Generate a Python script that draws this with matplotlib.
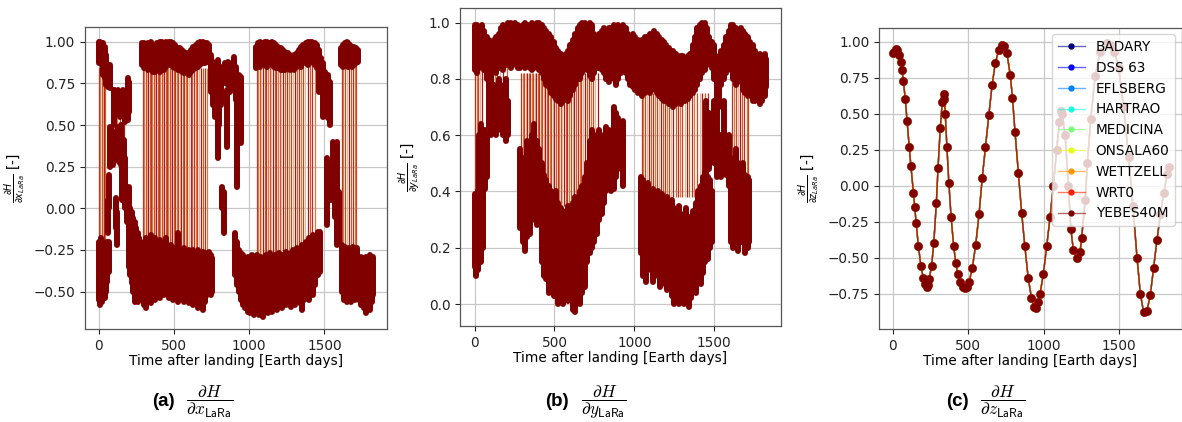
import numpy as np
import matplotlib
matplotlib.use("Agg")
import matplotlib.pyplot as plt

# ---------------- Panel (a): dH/dx_LaRa ----------------
# upper branch strokes (time [days], low, high)
a_up_t = [0, 10, 20, 30, 40, 50, 60, 78,
          285, 300, 315, 330, 345, 360, 375, 390, 405, 420, 435, 450, 465, 480, 495, 510, 525,
          540, 555, 570, 585, 600, 615, 630, 645, 660, 675, 690, 705, 720, 732,
          1045, 1060, 1075, 1090, 1105, 1120, 1135, 1150, 1165, 1180, 1195, 1210, 1225, 1240,
          1255, 1270, 1285, 1300, 1315, 1330, 1345, 1360, 1375, 1390, 1405, 1420, 1435, 1450,
          1465, 1478,
          1610, 1622, 1635, 1648, 1660, 1672, 1685, 1698, 1710, 1722]
a_up_lo = [0.87, 0.88, 0.86, 0.80, 0.78, 0.74, 0.73, 0.72,
           0.86, 0.84, 0.85, 0.83, 0.84, 0.82, 0.82, 0.83, 0.82, 0.84, 0.83, 0.85, 0.86, 0.87, 0.85, 0.84, 0.83,
           0.83, 0.82, 0.81, 0.81, 0.80, 0.82, 0.83, 0.84, 0.85, 0.86, 0.87, 0.87, 0.88, 0.88,
           0.84, 0.86, 0.85, 0.87, 0.86, 0.85, 0.87, 0.86, 0.85, 0.84, 0.84, 0.83, 0.83, 0.83,
           0.84, 0.83, 0.84, 0.83, 0.85, 0.86, 0.85, 0.87, 0.87, 0.86, 0.87, 0.88, 0.86, 0.84,
           0.70, 0.72,
           0.86, 0.85, 0.86, 0.87, 0.85, 0.86, 0.85, 0.86, 0.87, 0.88]
a_up_hi = [1.00, 1.00, 0.99, 0.99, 0.97, 0.92, 0.86, 0.86,
           0.99, 0.99, 0.98, 0.99, 1.00, 0.98, 0.97, 0.99, 1.00, 1.00, 0.99, 1.00, 1.00, 1.00, 0.99, 0.98, 0.96,
           0.96, 0.95, 0.94, 0.93, 0.93, 0.95, 0.97, 0.98, 0.99, 1.00, 1.00, 0.99, 0.99, 0.98,
           0.97, 0.99, 1.00, 0.99, 1.00, 1.00, 0.99, 1.00, 0.99, 0.98, 0.97, 0.96, 0.95, 0.94,
           0.93, 0.92, 0.91, 0.92, 0.93, 0.95, 0.97, 0.98, 0.99, 1.00, 1.00, 1.00, 0.99, 0.98,
           0.95, 0.90,
           0.96, 0.98, 0.99, 1.00, 0.99, 0.98, 0.97, 0.97, 0.96, 0.95]

# lower branch strokes
a_lo_t = [0, 8, 16, 24, 32, 40, 48, 56, 66,
          220, 230, 240, 250, 260, 270, 280, 290,
          300, 315, 330, 345, 360, 375, 390, 405, 420, 435, 450, 465, 480, 495, 510, 525, 540,
          555, 570, 585, 600, 615, 630, 645, 660, 675, 690, 705, 720, 732, 745, 755,
          905, 918, 930, 945, 960, 975, 990, 1005, 1020, 1035, 1050, 1065, 1080, 1095, 1110,
          1125, 1140, 1155, 1170, 1185, 1200, 1215, 1230, 1245, 1260, 1275, 1290, 1305, 1320,
          1335, 1350, 1365, 1380, 1395, 1410, 1425, 1440, 1455, 1470,
          1615, 1628, 1640, 1652, 1665, 1678, 1690, 1702, 1715, 1728, 1740, 1752, 1765, 1778,
          1790, 1802, 1815, 1826]
a_lo_lo = [-0.55, -0.58, -0.52, -0.56, -0.50, -0.54, -0.50, -0.44, -0.38,
           -0.45, -0.50, -0.56, -0.52, -0.56, -0.55, -0.52, -0.50,
           -0.58, -0.60, -0.55, -0.57, -0.52, -0.55, -0.50, -0.54, -0.48, -0.52, -0.50, -0.54, -0.50,
           -0.55, -0.52, -0.56, -0.54, -0.50, -0.56, -0.53, -0.57, -0.55, -0.58, -0.55, -0.60, -0.58,
           -0.61, -0.56, -0.52, -0.50, -0.52, -0.50,
           -0.40, -0.46, -0.50, -0.55, -0.58, -0.60, -0.62, -0.63, -0.60, -0.64, -0.62, -0.64, -0.60,
           -0.65, -0.61, -0.63, -0.60, -0.62, -0.58, -0.61, -0.57, -0.60, -0.56, -0.58, -0.55, -0.59,
           -0.56, -0.58, -0.55, -0.57, -0.61, -0.55, -0.52, -0.55, -0.50, -0.52, -0.46, -0.40, -0.38,
           -0.50, -0.55, -0.52, -0.56, -0.53, -0.56, -0.52, -0.55, -0.50, -0.55, -0.58, -0.54, -0.60,
           -0.63, -0.58, -0.61, -0.56, -0.52]
a_lo_hi = [-0.20, -0.22, -0.18, -0.25, -0.20, -0.25, -0.22, -0.20, -0.20,
           -0.02, -0.06, -0.08, -0.12, -0.15, -0.18, -0.20, -0.22,
           -0.22, -0.18, -0.20, -0.16, -0.20, -0.18, -0.22, -0.19, -0.21, -0.24, -0.18, -0.26, -0.22,
           -0.25, -0.24, -0.15, -0.25, -0.27, -0.24, -0.26, -0.25, -0.28, -0.25, -0.27, -0.25, -0.28,
           -0.26, -0.27, -0.30, -0.26, -0.28, -0.30,
           -0.15, -0.20, -0.25, -0.27, -0.28, -0.30, -0.29, -0.30, -0.28, -0.30, -0.28, -0.30, -0.29,
           -0.31, -0.28, -0.30, -0.27, -0.29, -0.28, -0.30, -0.27, -0.28, -0.29, -0.26, -0.28, -0.27,
           -0.25, -0.28, -0.24, -0.26, -0.22, -0.25, -0.20, -0.18, -0.22, -0.16, -0.20, -0.14, -0.14,
           -0.22, -0.25, -0.23, -0.26, -0.24, -0.25, -0.23, -0.26, -0.24, -0.30, -0.29, -0.31, -0.30,
           -0.29, -0.31, -0.28, -0.30, -0.29]

# transitional strokes
a_mid_t = [62, 70, 78, 88, 97, 100, 104, 112, 115, 120, 126, 130, 136, 145, 146, 156, 160, 166,
           175, 176, 186, 188, 196, 200, 204, 210,
           745, 760, 775, 790, 800, 812, 820, 830, 842, 852, 862, 875, 885, 898, 910, 922, 935, 945,
           1490, 1505, 1515, 1525, 1535, 1545, 1560, 1572, 1585, 1598]
a_mid_lo = [-0.15, 0.00, 0.25, 0.30, 0.26, 0.55, 0.50, -0.12, 0.57, -0.22, 0.30, 0.57, 0.28, 0.55,
            0.26, 0.05, 0.57, 0.15, 0.52, 0.00, -0.08, 0.55, 0.53, -0.35, 0.58, -0.40,
            0.70, 0.62, 0.55, 0.30, 0.50, 0.62, 0.00, -0.15, 0.75, 0.37, 0.74, 0.70, 0.76, 0.73, 0.65,
            0.13, 0.68, 0.39,
            0.55, 0.60, -0.10, 0.54, 0.50, 0.05, 0.20, -0.05, -0.22, -0.20]
a_mid_hi = [0.05, 0.20, 0.49, 0.47, 0.45, 0.71, 0.71, 0.06, 0.70, -0.02, 0.49, 0.71, 0.47, 0.70,
            0.50, 0.26, 0.71, 0.41, 0.70, 0.30, 0.12, 0.69, 0.78, 0.13, 0.76, 0.00,
            0.92, 0.88, 0.86, 0.89, 0.82, 0.85, 0.13, 0.10, 0.87, 0.71, 0.88, 0.86, 0.87, 0.91, 0.85,
            0.75, 0.80, 0.79,
            0.87, 0.82, 0.30, 0.80, 0.76, 0.25, 0.40, 0.35, 0.40, 0.10]

# thin connecting lines between branches
a_jump_t0 = [4, 11, 19, 27, 36, 45]
a_jump_t1 = [295, 304, 313, 321, 330, 340, 349, 357, 366, 374, 383, 392, 401, 409, 418, 427, 436,
             446, 455, 463, 472, 481, 490, 499, 509, 519, 530, 539, 548, 559, 570, 580, 590, 600,
             611, 622, 633, 644, 655, 667, 679, 691, 704, 717]
a_jump_t2 = [1050, 1060, 1071, 1082, 1093, 1104, 1114, 1125, 1136, 1147, 1158, 1169, 1180, 1192,
             1203, 1214, 1227, 1239, 1251, 1263, 1275, 1289, 1303, 1317, 1331, 1344, 1359, 1374,
             1389, 1404, 1419, 1437]
a_jump_t3 = [1614, 1626, 1638, 1651, 1663, 1676, 1689, 1701, 1712]
a_jump_t4 = [108, 124, 140, 152, 171]
a_jump_lo = [-0.30, -0.28, -0.30, -0.26, 0.30]
a_jump_hi = [0.85, 0.84, 0.86, 0.87, 0.60]

# ---------------- Panel (b): dH/dy_LaRa ----------------
b_up_t = [0, 15, 30, 45, 60, 75, 90, 105, 120, 135, 150, 165, 180, 195, 210, 225, 240, 255, 270,
          285, 300, 315, 330, 345, 360, 375, 390, 405, 420, 435, 450, 465, 480, 495, 510, 525,
          540, 555, 570, 585, 600, 615, 630, 645, 660, 675, 690, 705, 720, 735, 750, 765, 780,
          795, 810, 825, 840, 855, 870, 885, 900, 915, 930, 945, 960, 975, 990, 1005, 1020,
          1035, 1050, 1065, 1080, 1095, 1110, 1125, 1140, 1155, 1170, 1185, 1200, 1215, 1230,
          1245, 1260, 1275, 1290, 1305, 1320, 1335, 1350, 1365, 1380, 1395, 1410, 1425, 1440,
          1455, 1470, 1485, 1500, 1515, 1530, 1545, 1560, 1575, 1590, 1605, 1620, 1635, 1650,
          1665, 1680, 1695, 1710, 1725, 1740, 1755, 1770, 1785, 1800, 1815, 1826]
b_up_lo = [0.83, 0.82, 0.84, 0.85, 0.83, 0.80, 0.78, 0.80, 0.84, 0.82, 0.84, 0.85, 0.83, 0.85,
           0.86, 0.84, 0.85, 0.86, 0.84, 0.84, 0.85, 0.84, 0.85, 0.84, 0.83, 0.84, 0.85, 0.83,
           0.82, 0.80, 0.78, 0.77, 0.75, 0.74, 0.73, 0.72, 0.71, 0.72, 0.73, 0.72, 0.74, 0.76,
           0.78, 0.80, 0.80, 0.82, 0.84, 0.83, 0.81, 0.80, 0.82, 0.84, 0.84, 0.83, 0.82, 0.80,
           0.79, 0.81, 0.80, 0.78, 0.80, 0.82, 0.84, 0.82, 0.80, 0.78, 0.77, 0.76, 0.75, 0.76,
           0.74, 0.75, 0.76, 0.75, 0.76, 0.77, 0.75, 0.74, 0.73, 0.72, 0.72, 0.71, 0.72, 0.70,
           0.71, 0.72, 0.71, 0.72, 0.72, 0.73, 0.74, 0.75, 0.76, 0.78, 0.80, 0.82, 0.83, 0.85,
           0.86, 0.84, 0.80, 0.72, 0.70, 0.78, 0.80, 0.82, 0.84, 0.83, 0.80, 0.78, 0.80, 0.79,
           0.76, 0.75, 0.74, 0.75, 0.72, 0.72, 0.73, 0.71, 0.72, 0.74, 0.77]
b_up_hi = [0.99, 0.99, 0.98, 0.99, 0.97, 0.95, 0.94, 0.93, 0.94, 0.95, 0.96, 0.98, 0.99, 0.98,
           1.00, 1.00, 0.99, 1.00, 0.99, 0.98, 0.99, 1.00, 0.99, 0.99, 1.00, 0.99, 1.00, 1.00,
           0.99, 0.98, 0.97, 0.96, 0.95, 0.93, 0.91, 0.90, 0.89, 0.88, 0.89, 0.90, 0.92, 0.94,
           0.96, 0.98, 0.99, 1.00, 1.00, 0.99, 1.00, 0.99, 0.96, 0.95, 0.96, 0.97, 0.98, 0.97,
           0.98, 0.98, 0.99, 0.98, 0.99, 0.98, 0.99, 0.98, 0.96, 0.95, 0.96, 0.95, 0.94, 0.93,
           0.94, 0.95, 0.95, 0.96, 0.96, 0.97, 0.96, 0.95, 0.94, 0.93, 0.92, 0.91, 0.90, 0.90,
           0.89, 0.88, 0.88, 0.88, 0.87, 0.88, 0.89, 0.92, 0.95, 0.98, 0.99, 1.00, 1.00, 0.98,
           0.95, 0.93, 0.92, 0.86, 0.88, 0.90, 0.92, 0.95, 0.97, 0.99, 0.99, 0.98, 0.97, 0.98,
           0.97, 0.96, 0.95, 0.93, 0.92, 0.90, 0.88, 0.89, 0.88, 0.89, 0.87]

b_lo_t = [0, 10, 20, 30, 40, 50,
          285, 300, 315, 330, 345, 360, 375, 390, 405, 420, 435, 450, 465, 480, 495, 510, 525,
          540, 555, 570, 585, 600, 615, 630, 645, 660, 675, 690, 705, 720, 735, 750, 765, 780,
          795, 810, 825, 840, 855, 870, 885, 900, 915, 930,
          1040, 1055, 1070, 1085, 1100, 1115, 1130, 1145, 1160, 1175, 1190, 1205, 1220, 1235,
          1250, 1265, 1280, 1295, 1310, 1325, 1340, 1355, 1370, 1385, 1400, 1415, 1430, 1445,
          1460, 1475, 1488,
          1595, 1605, 1620, 1635, 1650, 1665, 1680, 1695, 1710, 1720]
b_lo_lo = [0.13, 0.10, 0.12, 0.18, 0.15, 0.20,
           0.27, 0.22, 0.19, 0.24, 0.25, 0.30, 0.32, 0.28, 0.30, 0.15, 0.10, 0.09, 0.04, 0.06,
           0.03, 0.05, 0.00, 0.02, 0.00, 0.04, 0.01, 0.02, -0.02, -0.03, 0.01, 0.00, 0.04, 0.06,
           0.15, 0.18, 0.20, 0.22, 0.25, 0.30, 0.32, 0.36, 0.40, 0.45, 0.40, 0.41, 0.45, 0.50,
           0.48, 0.42,
           0.18, 0.10, 0.08, 0.12, 0.14, 0.08, 0.10, 0.13, 0.06, 0.08, 0.07, 0.05, 0.09, 0.03,
           0.00, 0.02, 0.00, 0.01, 0.00, 0.03, -0.01, 0.02, 0.05, 0.04, 0.08, 0.07, 0.11, 0.15,
           0.16, 0.20, 0.22,
           0.42, 0.22, 0.20, 0.24, 0.19, 0.22, 0.26, 0.18, 0.20, 0.22]
b_lo_hi = [0.39, 0.38, 0.40, 0.60, 0.64, 0.62,
           0.55, 0.52, 0.50, 0.58, 0.52, 0.60, 0.64, 0.58, 0.55, 0.50, 0.46, 0.44, 0.42, 0.40,
           0.38, 0.40, 0.36, 0.34, 0.30, 0.33, 0.35, 0.32, 0.36, 0.38, 0.35, 0.40, 0.42, 0.45,
           0.50, 0.58, 0.62, 0.60, 0.58, 0.62, 0.55, 0.60, 0.63, 0.62, 0.58, 0.70, 0.68, 0.66,
           0.62, 0.65,
           0.45, 0.44, 0.42, 0.43, 0.40, 0.41, 0.38, 0.40, 0.37, 0.39, 0.36, 0.38, 0.35, 0.37,
           0.34, 0.33, 0.35, 0.32, 0.30, 0.34, 0.31, 0.30, 0.33, 0.36, 0.40, 0.42, 0.45, 0.47,
           0.45, 0.44, 0.40,
           0.60, 0.52, 0.50, 0.55, 0.50, 0.48, 0.50, 0.46, 0.45, 0.44]

b_mid_t = [65, 78, 90, 105, 120, 135, 150, 165, 180, 195, 210, 1450, 1470, 1500, 1520, 1540,
           1560, 1575]
b_mid_lo = [0.41, 0.45, 0.63, 0.60, 0.62, 0.60, 0.63, 0.62, 0.60, 0.58, 0.60, 0.42, 0.48, 0.50,
            0.45, 0.45, 0.55, 0.46]
b_mid_hi = [0.62, 0.60, 0.82, 0.80, 0.78, 0.75, 0.80, 0.78, 0.76, 0.80, 0.72, 0.72, 0.68, 0.72,
            0.70, 0.60, 0.72, 0.56]

b_jump_t0 = [5, 14, 24, 33, 48]
b_jump_t1 = [292, 301, 310, 320, 329, 338, 348, 357, 366, 376, 385, 395, 404, 414, 424, 433,
             443, 452, 462, 471, 481, 491, 500, 510, 520, 530, 540, 550, 560, 571, 581, 592,
             602, 613, 624, 635, 646, 657, 668, 680, 692, 704, 716, 728, 742, 756, 770]
b_jump_t2 = [1045, 1056, 1068, 1080, 1092, 1104, 1116, 1128, 1141, 1153, 1166, 1179, 1192,
             1205, 1218, 1231, 1244, 1258, 1272, 1286, 1300, 1315, 1330, 1345, 1360, 1376,
             1392, 1408, 1424, 1440, 1458]
b_jump_t3 = [1612, 1624, 1637, 1650, 1663, 1676, 1689, 1702, 1714]
b_jump_t4 = [110, 125, 142, 160, 176, 200]
b_jump_lo = [0.35, 0.35, 0.38, 0.45, 0.70]
b_jump_hi = [0.85, 0.82, 0.75, 0.80, 0.86]

# ---------------- Panel (c): dH/dz_LaRa ----------------
c_t = [0, 10, 20, 28, 40, 52, 61, 70, 83, 95, 109, 120, 137, 146, 155, 170, 187, 202, 212, 224,
       232, 241, 257, 272, 289, 300, 315, 328, 337, 343, 348, 359, 372, 387, 404, 418, 430, 445,
       463, 480, 493, 506, 528, 550, 572, 593, 615, 637, 659, 680, 702, 724, 741, 757, 779, 794,
       811, 833, 855, 876, 898, 920, 935, 950, 965, 977, 999, 1021, 1043, 1065, 1087, 1105,
       1115, 1125, 1143, 1165, 1181, 1198, 1220, 1242, 1253, 1276, 1291, 1313, 1342, 1375,
       1420, 1445, 1470, 1498, 1531, 1564, 1593, 1620, 1642, 1664, 1686, 1708, 1730, 1752,
       1775, 1797, 1820, 1830]
c_v = [0.92, 0.93, 0.95, 0.94, 0.91, 0.86, 0.80, 0.73, 0.60, 0.45, 0.27, 0.14, -0.05, -0.15,
       -0.26, -0.42, -0.56, -0.64, -0.68, -0.70, -0.69, -0.65, -0.56, -0.40, -0.12, 0.12, 0.40,
       0.58, 0.64, 0.60, 0.50, 0.27, 0.02, -0.22, -0.42, -0.54, -0.61, -0.67, -0.70, -0.71,
       -0.70, -0.67, -0.57, -0.41, -0.20, 0.05, 0.27, 0.49, 0.70, 0.85, 0.94, 0.98, 0.97, 0.92,
       0.77, 0.61, 0.37, 0.09, -0.19, -0.42, -0.64, -0.78, -0.84, -0.85, -0.81, -0.75, -0.61,
       -0.42, -0.22, 0.00, 0.25, 0.44, 0.52, 0.50, 0.35, 0.00, -0.30, -0.45, -0.50, -0.46,
       -0.36, -0.10, 0.16, 0.46, 0.76, 0.93, 0.99, 0.98, 0.93, 0.82, 0.55, 0.20, -0.14, -0.50,
       -0.75, -0.88, -0.87, -0.76, -0.57, -0.38, -0.20, -0.05, 0.08, 0.13]
stations = ["BADARY", "DSS 63", "EFLSBERG", "HARTRAO", "MEDICINA", "ONSALA60", "WETTZELL",
            "WRT0", "YEBES40M"]

# ---------------- drawing ----------------
FS = 9.8
DARK = "#800000"
JUMP_COLORS = ["#b8321c", "#e2773f", "#c9461f", "#f0b49a", "#a01f12", "#d85a2a"]

fig = plt.figure(figsize=(11.82, 4.22), dpi=100)
ax_a = fig.add_axes([0.0719, 0.2204, 0.2555, 0.7156])
ax_b = fig.add_axes([0.3892, 0.2275, 0.2713, 0.7528])
ax_c = fig.add_axes([0.7437, 0.2204, 0.2560, 0.7140])


def style(ax):
    ax.set_axisbelow(True)
    ax.grid(True, color="#c8c8c8", lw=0.9)
    for s in ax.spines.values():
        s.set_color("#555555")
        s.set_linewidth(0.9)
    ax.tick_params(labelsize=FS, colors="#222222", length=3.5, width=0.8)
    ax.set_xlim(-91, 1916)
    ax.set_xlabel("Time after landing [Earth days]", fontsize=FS, labelpad=1)


def draw_dense(ax, groups, jumps, jlo, jhi):
    for times, lo, hi in zip(jumps, jlo, jhi):
        cols = [JUMP_COLORS[i % len(JUMP_COLORS)] for i in range(len(times))]
        ax.vlines(times, lo, hi, colors=cols, linewidths=0.9, zorder=2)
    for t, lo, hi in groups:
        ax.vlines(t, lo, hi, colors=DARK, linewidths=4.3, capstyle="round", zorder=3)


style(ax_a)
draw_dense(ax_a,
           [(a_up_t, a_up_lo, a_up_hi), (a_lo_t, a_lo_lo, a_lo_hi), (a_mid_t, a_mid_lo, a_mid_hi)],
           [a_jump_t0, a_jump_t1, a_jump_t2, a_jump_t3, a_jump_t4], a_jump_lo, a_jump_hi)
ax_a.set_ylim(-0.724, 1.088)
ax_a.set_yticks([-0.5, -0.25, 0.0, 0.25, 0.5, 0.75, 1.0])
ax_a.set_ylabel(r"$\frac{\partial H}{\partial x_{LaRa}}$ [-]", fontsize=FS)

style(ax_b)
draw_dense(ax_b,
           [(b_up_t, b_up_lo, b_up_hi), (b_lo_t, b_lo_lo, b_lo_hi), (b_mid_t, b_mid_lo, b_mid_hi)],
           [b_jump_t0, b_jump_t1, b_jump_t2, b_jump_t3, b_jump_t4], b_jump_lo, b_jump_hi)
ax_b.set_ylim(-0.078, 1.051)
ax_b.set_yticks([0.0, 0.2, 0.4, 0.6, 0.8, 1.0])
ax_b.set_ylabel(r"$\frac{\partial H}{\partial y_{LaRa}}$ [-]", fontsize=FS)

style(ax_c)
cols = plt.cm.jet(np.linspace(0, 1, len(stations)))
for name, col in zip(stations, cols):
    r, g, b, _ = col
    ax_c.plot(c_t, c_v, "-", color=(r, g, b, 0.6), lw=1.0, marker="o", ms=5.0,
              mfc=(r, g, b, 1), mec=(r, g, b, 1), label=name, zorder=3)
ax_c.set_ylim(-0.995, 1.097)
ax_c.set_yticks([-0.75, -0.5, -0.25, 0.0, 0.25, 0.5, 0.75, 1.0])
ax_c.set_ylabel(r"$\frac{\partial H}{\partial z_{LaRa}}$ [-]", fontsize=FS)
leg = ax_c.legend(loc="upper right", fontsize=FS, markerscale=0.7, handlelength=2.0,
                  borderaxespad=0.5, framealpha=0.8)

# captions
for xb, xf, letter, var in [(163, 210, "(a)", "x"), (557, 604, "(b)", "y"), (957, 1003, "(c)", "z")]:
    fig.text(xb / 1182, 1 - 402 / 422, letter, ha="center", va="center", fontsize=13.5,
             fontweight="bold", family="Liberation Sans")
    fig.text(xf / 1182, 1 - 402 / 422,
             r"$\dfrac{\partial H}{\partial %s_{\mathsf{LaRa}}}$" % var,
             ha="center", va="center", fontsize=12.5, math_fontfamily="cm")

fig.savefig("out.png", dpi=100)
